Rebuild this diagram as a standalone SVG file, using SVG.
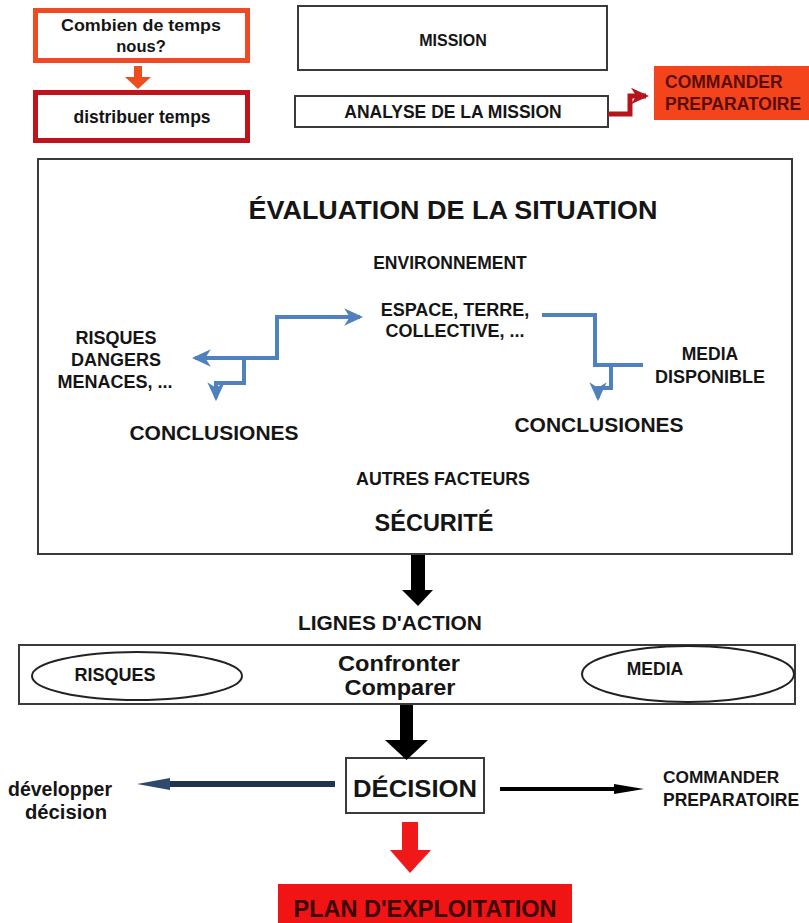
<svg xmlns="http://www.w3.org/2000/svg" width="809" height="923" viewBox="0 0 809 923">
  <style>
    text { font-family: "Liberation Sans", Arial, sans-serif; font-weight: bold; fill: #151515; }
    .c { text-anchor: middle; }
    .box { fill: #ffffff; stroke: #3a3a3a; stroke-width: 2; }
    .ell { fill: #ffffff; stroke: #222222; stroke-width: 2; }
    .blue { fill: none; stroke: #4f81bd; stroke-width: 4; }
    .dark { fill: #5a0c06; }
  </style>
  <defs>
    <marker id="blueHead" viewBox="0 0 12 12" refX="10" refY="6" markerWidth="19" markerHeight="19" markerUnits="userSpaceOnUse" orient="auto">
      <path d="M0,0.5 L12,6 L0,11.5 L3.5,6 Z" fill="#4f81bd"/>
    </marker>
    <marker id="redHead" viewBox="0 0 12 12" refX="10" refY="6" markerWidth="18" markerHeight="18" markerUnits="userSpaceOnUse" orient="auto">
      <path d="M0,0.5 L12,6 L0,11.5 L3.5,6 Z" fill="#b5141b"/>
    </marker>
  </defs>

  <rect width="809" height="923" fill="#ffffff"/>

  <!-- time planning -->
  <g id="combien">
    <rect x="35.5" y="10.5" width="212" height="50" fill="#ffffff" stroke="#ef4a23" stroke-width="5"/>
    <text class="c" x="141" y="31" font-size="16.5" textLength="160" lengthAdjust="spacingAndGlyphs">Combien de temps</text>
    <text class="c" x="141" y="52" font-size="16.5">nous?</text>
  </g>
  <g id="distribuer">
    <rect x="35.5" y="92.5" width="212" height="48" fill="#ffffff" stroke="#c0141c" stroke-width="5"/>
    <text class="c" x="142" y="123" font-size="17.5">distribuer temps</text>
  </g>

  <!-- mission -->
  <g id="mission">
    <rect class="box" x="298" y="6" width="309" height="64"/>
    <text class="c" x="453" y="46" font-size="16">MISSION</text>
  </g>
  <g id="analyse">
    <rect class="box" x="295" y="96" width="313" height="31"/>
    <text class="c" x="453" y="118" font-size="17.5">ANALYSE DE LA MISSION</text>
  </g>
  <g id="commander-top">
    <rect x="654" y="66" width="155" height="54" fill="#f4441c"/>
    <text class="dark" x="665" y="88" font-size="17.5">COMMANDER</text>
    <text class="dark" x="665" y="110" font-size="17.5">PREPARATOIRE</text>
  </g>

  <!-- situation assessment -->
  <g id="evaluation">
    <rect class="box" x="38" y="159" width="754" height="395"/>
    <text class="c" x="453" y="219" font-size="26.5" textLength="409" lengthAdjust="spacingAndGlyphs">ÉVALUATION DE LA SITUATION</text>
  </g>
  <g id="environnement">
    <text class="c" x="450" y="269" font-size="17.5">ENVIRONNEMENT</text>
  </g>
  <g id="espace">
    <text class="c" x="455" y="316" font-size="18">ESPACE, TERRE,</text>
    <text class="c" x="455" y="337" font-size="18">COLLECTIVE, ...</text>
  </g>
  <g id="risques-dangers">
    <text class="c" x="116" y="344" font-size="18">RISQUES</text>
    <text class="c" x="116" y="366" font-size="18">DANGERS</text>
    <text class="c" x="115" y="388" font-size="18">MENACES, ...</text>
  </g>
  <g id="media-disponible">
    <text class="c" x="710" y="360" font-size="17.5">MEDIA</text>
    <text class="c" x="710" y="383" font-size="18">DISPONIBLE</text>
  </g>
  <g id="conclusiones-gauche">
    <text class="c" x="214" y="440" font-size="21">CONCLUSIONES</text>
  </g>
  <g id="conclusiones-droite">
    <text class="c" x="599" y="432" font-size="21">CONCLUSIONES</text>
  </g>
  <g id="autres-facteurs">
    <text class="c" x="443" y="485" font-size="17.8">AUTRES FACTEURS</text>
  </g>
  <g id="securite">
    <text class="c" x="434" y="531" font-size="23.5">SÉCURITÉ</text>
  </g>

  <!-- courses of action -->
  <g id="lignes-action">
    <text class="c" x="390" y="630" font-size="20.5" textLength="184" lengthAdjust="spacingAndGlyphs">LIGNES D'ACTION</text>
  </g>
  <g id="confronter">
    <rect class="box" x="19" y="645" width="776" height="59"/>
    <text class="c" x="399" y="671" font-size="22" textLength="122" lengthAdjust="spacingAndGlyphs">Confronter</text>
    <text class="c" x="400" y="695" font-size="22" textLength="111" lengthAdjust="spacingAndGlyphs">Comparer</text>
  </g>
  <g id="risques">
    <ellipse class="ell" cx="137" cy="676" rx="105" ry="24"/>
    <text class="c" x="115" y="681" font-size="18">RISQUES</text>
  </g>
  <g id="media">
    <ellipse class="ell" cx="688" cy="674" rx="106" ry="28"/>
    <text class="c" x="655" y="675" font-size="17.5">MEDIA</text>
  </g>

  <!-- decision -->
  <g id="decision">
    <rect class="box" x="346" y="758" width="138" height="55"/>
    <text class="c" x="415" y="797" font-size="24" textLength="124" lengthAdjust="spacingAndGlyphs">DÉCISION</text>
  </g>
  <g id="developper">
    <text class="c" x="60" y="796" font-size="19.5" textLength="104" lengthAdjust="spacingAndGlyphs">développer</text>
    <text class="c" x="66" y="819" font-size="19.5" textLength="82" lengthAdjust="spacingAndGlyphs">décision</text>
  </g>
  <g id="commander-bas">
    <text x="663" y="783" font-size="17.3">COMMANDER</text>
    <text x="663" y="806" font-size="17.5">PREPARATOIRE</text>
  </g>
  <g id="plan">
    <rect x="278" y="884" width="294" height="39" fill="#f01414"/>
    <text class="c" x="425" y="917" font-size="23" style="fill:#3a0505" textLength="263" lengthAdjust="spacingAndGlyphs">PLAN D'EXPLOITATION</text>
  </g>

  <!-- connectors -->
  <g id="connectors">
    <!-- time question to distribution -->
    <rect x="134" y="66" width="8" height="12" fill="#ec4d1f"/>
    <polygon points="125,77 151,77 138,89" fill="#ec4d1f"/>

    <!-- mission analysis to preparatory order -->
    <path d="M608,114 H630 V96 H646" fill="none" stroke="#b5141b" stroke-width="5" marker-end="url(#redHead)"/>

    <!-- environment branches -->
    <path class="blue" d="M277,358 V317 H360" marker-end="url(#blueHead)"/>
    <path class="blue" d="M279,358 H195" marker-end="url(#blueHead)"/>
    <path class="blue" d="M244,358 V383 H216 V398" marker-end="url(#blueHead)"/>
    <path class="blue" d="M542,315 H595 V365 H643"/>
    <path class="blue" d="M611,365 V388 H598 V398" marker-end="url(#blueHead)"/>

    <!-- assessment to courses of action -->
    <rect x="411" y="555" width="14" height="36" fill="#000000"/>
    <polygon points="402,590 433,590 418,606" fill="#000000"/>

    <!-- comparison to decision -->
    <rect x="400" y="705" width="13" height="36" fill="#000000"/>
    <polygon points="385,740 428,740 406.5,760" fill="#000000"/>

    <!-- decision outputs -->
    <path d="M335,784 H160" fill="none" stroke="#1f3550" stroke-width="6"/>
    <polygon points="137,784 170,778 170,790" fill="#2c4a6c"/>
    <path d="M500,789 H620" fill="none" stroke="#000000" stroke-width="4"/>
    <polygon points="644,789 614,784 614,794" fill="#000000"/>

    <!-- decision to plan -->
    <rect x="402" y="822" width="16" height="29" fill="#f01818"/>
    <polygon points="390,850 431,850 410,873" fill="#f01818"/>
  </g>
</svg>
